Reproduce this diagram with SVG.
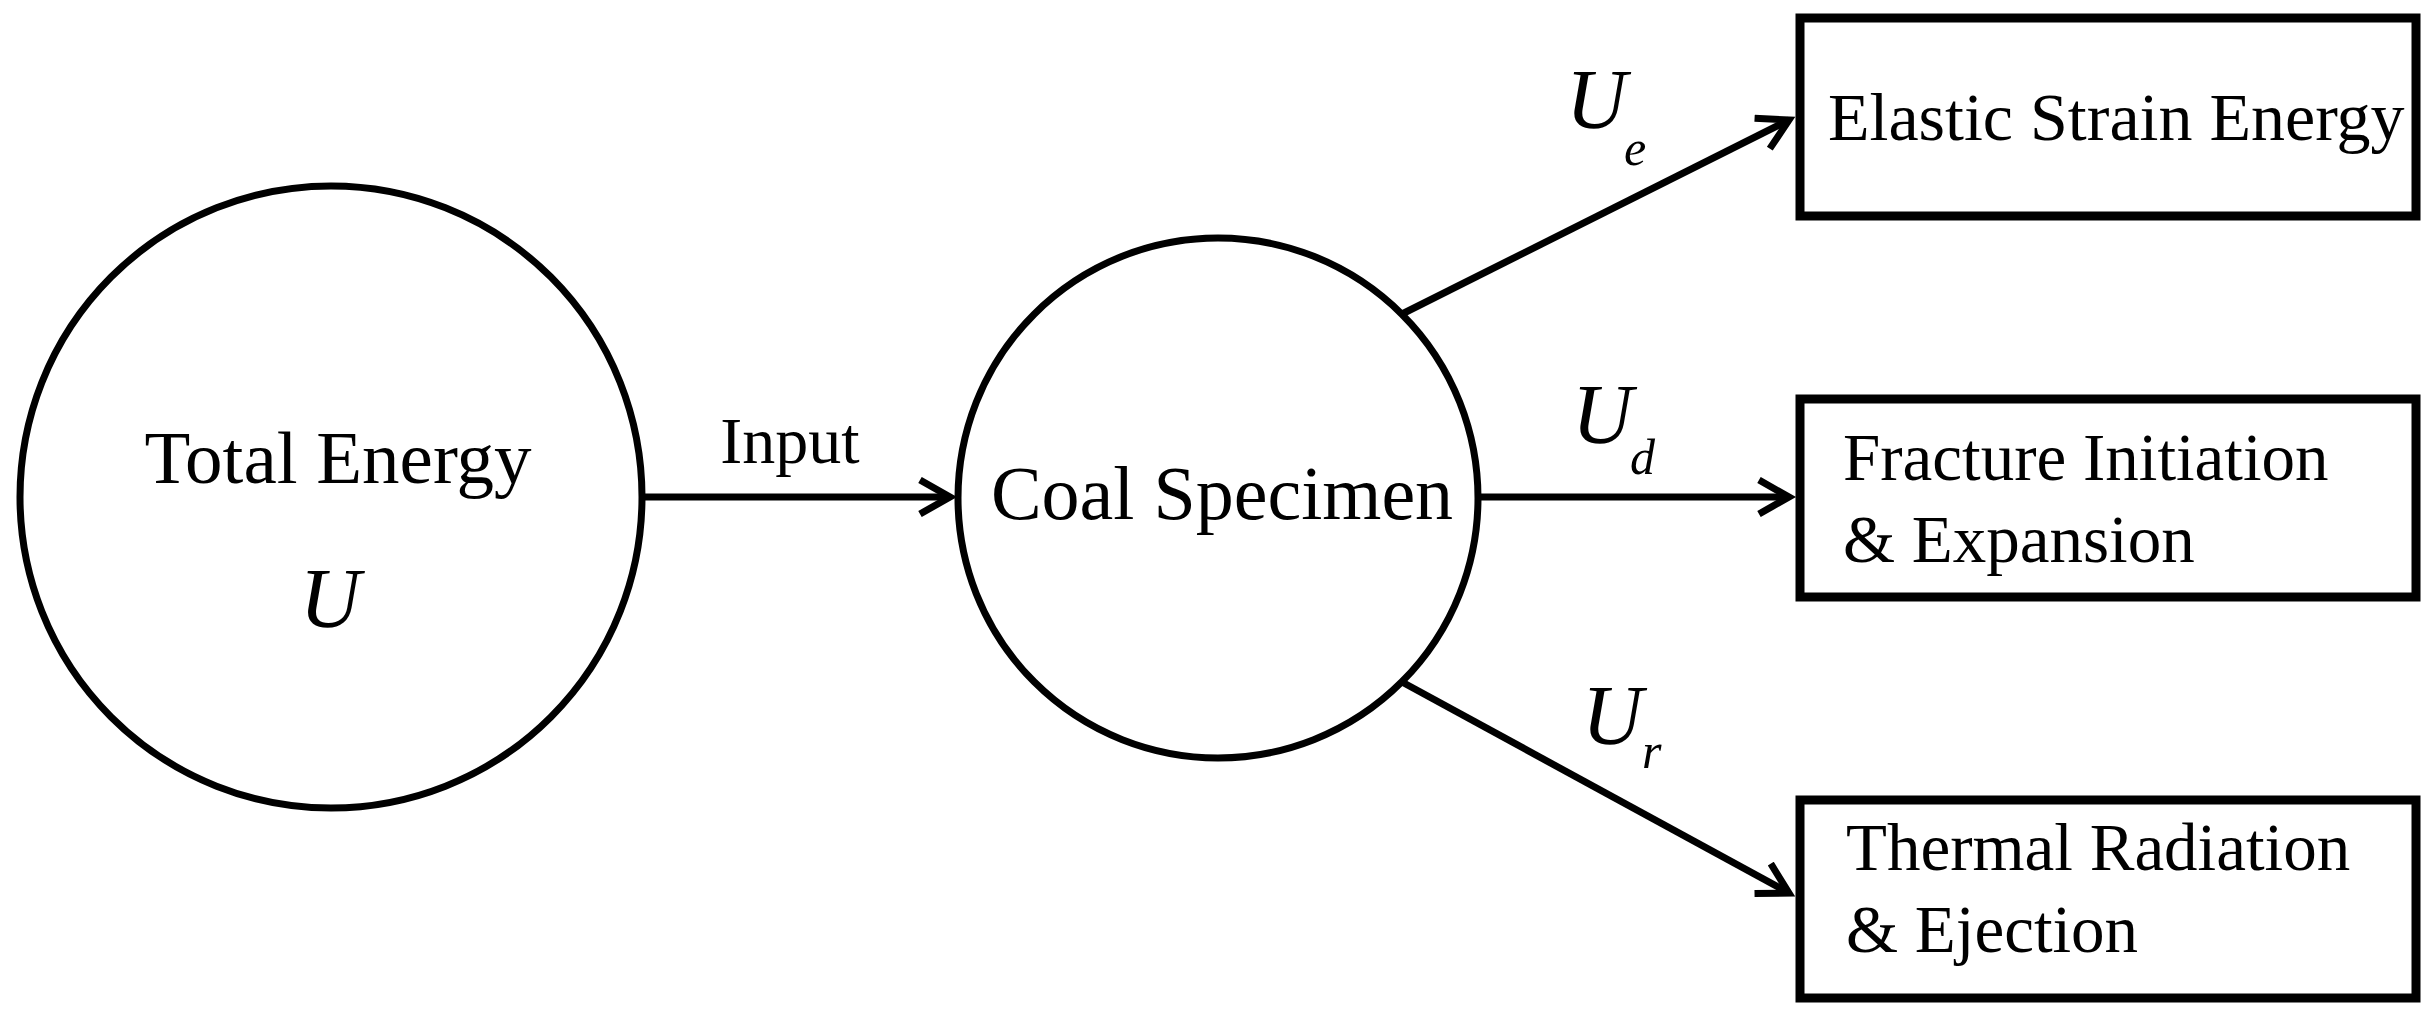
<svg xmlns="http://www.w3.org/2000/svg" width="2429" height="1023" viewBox="0 0 2429 1023">
<style>
.node{fill:#fff;stroke:#000;stroke-width:7}
.box{fill:#fff;stroke:#000;stroke-width:9}
.t{font-family:"Liberation Serif","Times New Roman",serif;fill:#000}
.i{font-family:"Liberation Serif","Times New Roman",serif;font-style:italic;fill:#000}
.c{fill:none;stroke:#000;stroke-width:7}
</style>
<defs>
<marker id="ah" markerUnits="userSpaceOnUse" viewBox="0 0 50 40" markerWidth="50" markerHeight="40" refX="38" refY="20" orient="auto">
<path d="M8,3 L38,20 L8,37" fill="none" stroke="#000" stroke-width="7"/>
</marker>
</defs>
<rect width="2429" height="1023" fill="#fff"/>
<g id="connectors">
<line class="c" x1="642" y1="497" x2="950" y2="497" marker-end="url(#ah)"/>
<line class="c" x1="1402" y1="314" x2="1789" y2="120" marker-end="url(#ah)"/>
<line class="c" x1="1478" y1="497" x2="1789" y2="497" marker-end="url(#ah)"/>
<line class="c" x1="1402" y1="682" x2="1789" y2="893" marker-end="url(#ah)"/>
<text class="t" x="790" y="463" font-size="66" text-anchor="middle">Input</text>
<text class="i" x="1566" y="128" font-size="84">U</text><text class="i" x="1624" y="165" font-size="50">e</text>
<text class="i" x="1572" y="443" font-size="84">U</text><text class="i" x="1630" y="474" font-size="50">d</text>
<text class="i" x="1582" y="744" font-size="84">U</text><text class="i" x="1642" y="768" font-size="50">r</text>
</g>
<g id="total-energy">
<circle class="node" cx="331" cy="497" r="311"/>
<text class="t" x="338" y="483" font-size="75" text-anchor="middle">Total Energy</text>
<text class="i" x="330" y="627" font-size="84" text-anchor="middle">U</text>
</g>
<g id="coal-specimen">
<circle class="node" cx="1218" cy="498" r="260"/>
<text class="t" x="1222" y="519" font-size="76" text-anchor="middle">Coal Specimen</text>
</g>
<g id="elastic-strain-energy">
<rect class="box" x="1800" y="18" width="616" height="198"/>
<text class="t" x="1828" y="140" font-size="68">Elastic Strain Energy</text>
</g>
<g id="fracture">
<rect class="box" x="1800" y="399" width="616" height="198"/>
<text class="t" x="1843" y="480" font-size="67">Fracture Initiation</text>
<text class="t" x="1843" y="562" font-size="67">&amp; Expansion</text>
</g>
<g id="thermal">
<rect class="box" x="1800" y="800" width="616" height="198"/>
<text class="t" x="1846" y="870" font-size="67">Thermal Radiation</text>
<text class="t" x="1846" y="952" font-size="67">&amp; Ejection</text>
</g>
</svg>
